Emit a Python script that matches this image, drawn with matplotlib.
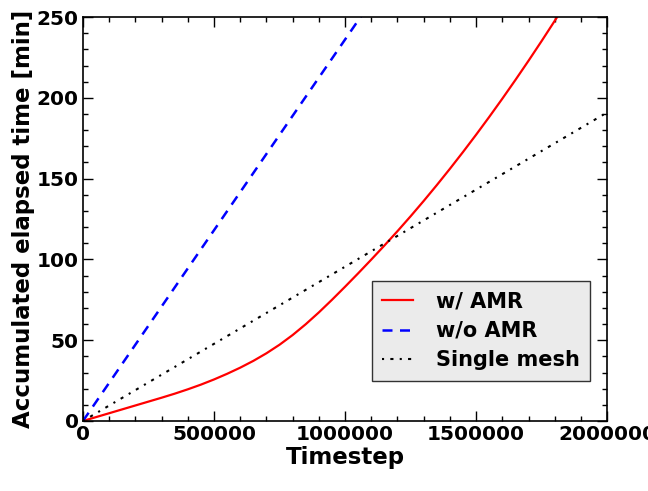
import matplotlib
matplotlib.use('Agg')
import matplotlib.pyplot as plt
from matplotlib.ticker import MultipleLocator

# data
steps_amr = [0, 50000, 100000, 150000, 200000, 250000, 300000, 350000, 400000,
             450000, 500000, 550000, 600000, 650000, 700000, 750000, 800000,
             850000, 900000, 950000, 1000000, 1050000, 1100000, 1150000, 1200000,
             1250000, 1300000, 1350000, 1400000, 1450000, 1500000, 1550000,
             1600000, 1650000, 1700000, 1750000, 1800000, 1850000]
time_amr = [0, 2.4, 4.8, 7.2, 9.6, 12, 14.4, 16.9, 19.6, 22.5, 25.7, 29.2, 33,
            37.2, 41.9, 47.2, 53.2, 59.9, 67.2, 75, 83.1, 91.4, 99.9, 108.6,
            117.5, 126.7, 136.2, 146, 156.1, 166.5, 177.2, 188.2, 199.5, 211.1,
            223, 235.2, 247.7, 260.5]
steps_noamr = [0, 1080000]
time_noamr = [0, 255]
steps_single = [0, 2000000]
time_single = [0, 191]

plt.rcParams['font.weight'] = 'bold'
plt.rcParams['font.size'] = 14

fig = plt.figure(figsize=(6.48, 4.91), dpi=100)
ax = fig.add_axes([0.128, 0.1426, 0.809, 0.8226])

ax.plot(steps_amr, time_amr, color='red', lw=1.6, label='w/ AMR')
ax.plot(steps_noamr, time_noamr, color='blue', lw=1.8, ls='--', dashes=(4, 3), label='w/o AMR')
ax.plot(steps_single, time_single, color='black', lw=1.5, ls='-.', dashes=(1, 3, 1.5, 3),
        label='Single mesh')

ax.set_xlim(0, 2000000)
ax.set_ylim(0, 250)
ax.ticklabel_format(style='plain', useOffset=False)
ax.xaxis.set_major_locator(MultipleLocator(500000))
ax.xaxis.set_minor_locator(MultipleLocator(100000))
ax.yaxis.set_major_locator(MultipleLocator(50))
ax.yaxis.set_minor_locator(MultipleLocator(10))
ax.tick_params(which='both', direction='in', top=True, right=True, width=1)
ax.tick_params(which='major', length=7, pad=3, labelsize=14.5)
ax.tick_params(which='minor', length=3.5)
for s in ax.spines.values():
    s.set_linewidth(1.2)

ax.set_xlabel('Timestep', fontweight='bold', fontsize=16.5, labelpad=1)
ax.set_ylabel('Accumulated elapsed time [min]', fontweight='bold', fontsize=16.5, labelpad=1)

leg = ax.legend(loc='lower right', bbox_to_anchor=(0.968, 0.1), borderaxespad=0,
                fancybox=False, facecolor='#ebebeb', edgecolor='#333333',
                framealpha=1, handlelength=1.5, handletextpad=1.1, fontsize=15,
                labelspacing=0.45, borderpad=0.5)

fig.savefig('out.png', dpi=100)
